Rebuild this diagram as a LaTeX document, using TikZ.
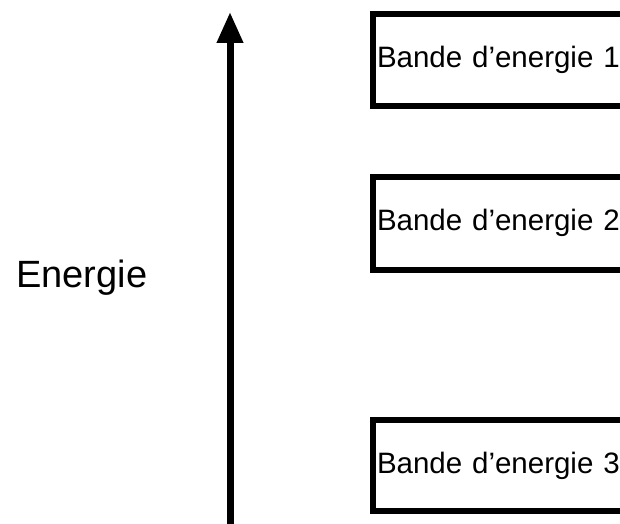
\documentclass[tikz,border=0pt]{standalone}
\usepackage{fontspec}
\setmainfont{Liberation Sans}
\usetikzlibrary{arrows.meta}
\begin{document}
\begin{tikzpicture}[x=1pt,y=1pt,
  bande/.style={draw,line width=6pt,anchor=north west,text width=300pt,align=left,
    inner xsep=4pt,font=\fontsize{29.5}{36}\selectfont}]
\useasboundingbox (0,0) rectangle (620,523);
\clip (0,0) rectangle (620,523);
\coordinate (bas) at (230,-5);
\coordinate (haut) at (230,511);
\path[draw,line width=7pt,-{Triangle[length=31pt,width=25pt]}] (bas) -- (haut);
\node[anchor=base west,inner sep=0pt,font=\fontsize{38}{44}\selectfont] (energie) at (16,236) {Energie};
\node[bande,minimum height=92pt] (b1) at (370,512) {Bande d’energie 1};
\node[bande,minimum height=93pt] (b2) at (370,349.5) {Bande d’energie 2};
\node[bande,minimum height=91pt] (b3) at (370,106) {Bande d’energie 3};
\end{tikzpicture}
\end{document}
